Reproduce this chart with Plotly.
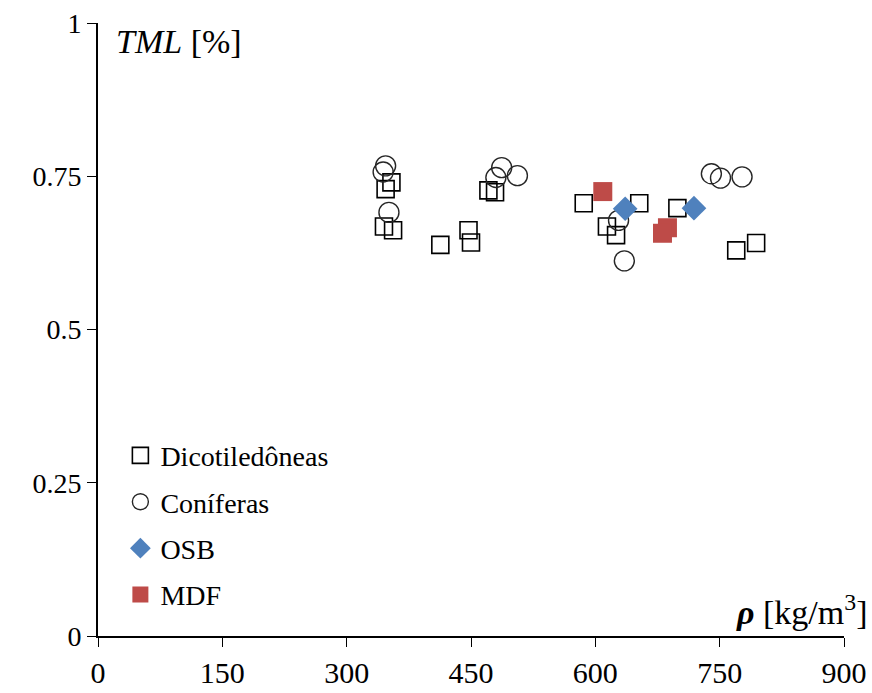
import plotly.graph_objects as go

# Densidade aparente (kg/m3) e TML (%) por grupo de material
dicot_rho = [354, 347, 345, 356, 413, 447, 450, 471, 479, 586, 653, 614, 625, 699, 770, 794]
dicot_tml = [0.740, 0.729, 0.668, 0.662, 0.638, 0.662, 0.642, 0.727, 0.724, 0.706, 0.706, 0.668, 0.654, 0.698, 0.629, 0.641]

conif_rho = [347, 344, 351, 487, 480, 506, 628, 635, 740, 751, 777]
conif_tml = [0.767, 0.757, 0.691, 0.764, 0.748, 0.751, 0.678, 0.612, 0.754, 0.747, 0.749]

osb_rho = [636, 719]
osb_tml = [0.697, 0.698]

mdf_rho = [609, 687, 681]
mdf_tml = [0.725, 0.666, 0.657]

x_ticks = [0, 150, 300, 450, 600, 750, 900]
y_ticks = [0, 0.25, 0.5, 0.75, 1]
y_tick_text = ["0", "0.25", "0.5", "0.75", "1"]

FONT = "Times New Roman"

fig = go.Figure()
fig.add_trace(go.Scatter(
    x=dicot_rho, y=dicot_tml, mode="markers", name="Dicotiledôneas",
    legendgroup="a",
    marker=dict(symbol="square-open", size=17, color="black", line=dict(width=1.6, color="black")),
))
fig.add_trace(go.Scatter(
    x=conif_rho, y=conif_tml, mode="markers", name="Coníferas",
    legendgroup="b",
    marker=dict(symbol="circle-open", size=20, color="#262626", line=dict(width=1.4, color="#262626")),
))
fig.add_trace(go.Scatter(
    x=osb_rho, y=osb_tml, mode="markers", name="OSB",
    legendgroup="c",
    marker=dict(symbol="diamond", size=19, color="#4F81BD", line=dict(width=0)),
))
fig.add_trace(go.Scatter(
    x=mdf_rho, y=mdf_tml, mode="markers", name="MDF",
    legendgroup="d",
    marker=dict(symbol="square", size=19, color="#BE4B48", line=dict(width=0)),
))

axis_common = dict(
    showline=True, linecolor="black", linewidth=1.6, mirror=False,
    ticks="outside", ticklen=9, tickwidth=1.4, tickcolor="black",
    showgrid=False, zeroline=False, automargin=False,
)

fig.update_xaxes(
    range=[0, 900], tickmode="array", tickvals=x_ticks,
    tickfont=dict(family=FONT, size=30, color="black"),
    **axis_common,
)
fig.update_yaxes(
    range=[0, 1], tickmode="array", tickvals=y_ticks, ticktext=y_tick_text,
    tickfont=dict(family=FONT, size=28, color="black"),
    **axis_common,
)

fig.add_annotation(
    xref="paper", yref="paper", x=0.022, y=0.97, xanchor="left", yanchor="middle",
    text="<i>TML</i> [%]", showarrow=False,
    font=dict(family=FONT, size=34, color="black"),
)
fig.add_annotation(
    xref="paper", yref="paper", x=1.033, y=0.043, xanchor="right", yanchor="middle",
    text="<b><i>ρ</i></b> [kg/m<sup>3</sup>]", showarrow=False,
    font=dict(family=FONT, size=34, color="black"),
)

fig.update_layout(
    width=872, height=693,
    margin=dict(l=98, r=28, t=23, b=57, autoexpand=False),
    paper_bgcolor="white", plot_bgcolor="white",
    showlegend=True,
    legend=dict(
        x=0.03, y=0.335, xanchor="left", yanchor="top",
        font=dict(family=FONT, size=28, color="black"),
        bgcolor="rgba(0,0,0,0)", tracegroupgap=7,
        itemsizing="trace",
    ),
)

fig.write_html("out.html")
